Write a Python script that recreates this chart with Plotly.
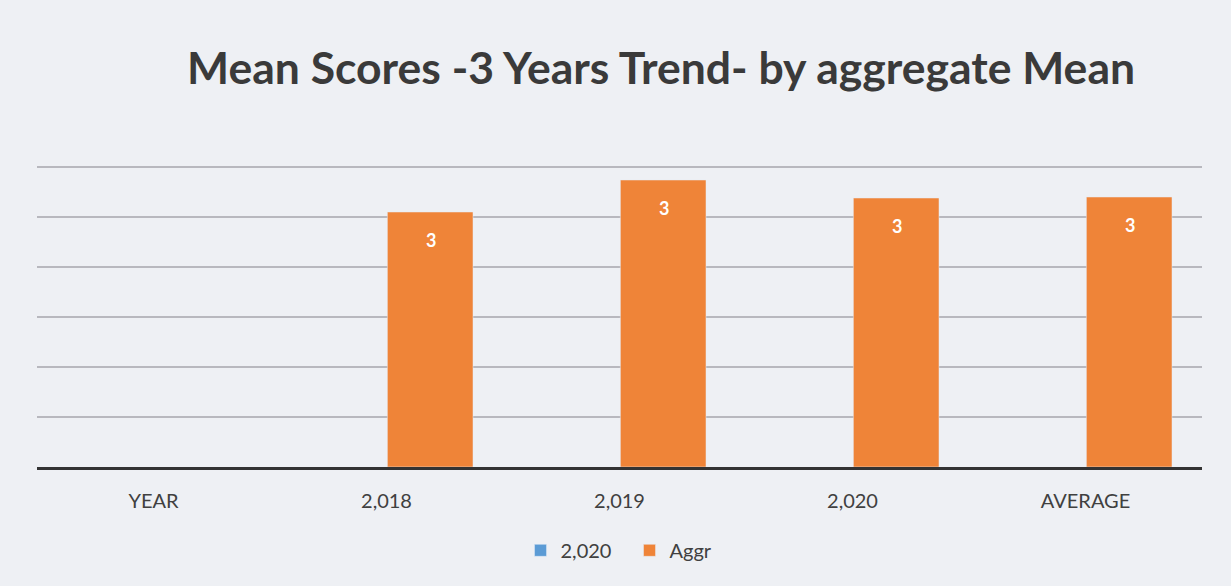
import plotly.graph_objects as go

categories = ["YEAR", "2,018", "2,019", "2,020", "AVERAGE"]
series_2020 = [None, None, None, None, None]
series_aggr = [None, 2.55, 2.87, 2.69, 2.70]
aggr_labels = [None if v is None else f"{v:.0f}" for v in series_aggr]

BLUE = "#5b9bd5"
ORANGE = "#ef8438"
TEXT = "#404040"
FONT = "Lato, Open Sans, sans-serif"

fig = go.Figure()
fig.add_trace(go.Bar(name="2,020", x=categories, y=series_2020, marker_color=BLUE))
fig.add_trace(go.Bar(name="Aggr", x=categories, y=series_aggr, marker_color=ORANGE))

for c, v, t in zip(categories, series_aggr, aggr_labels):
    if v is None:
        continue
    fig.add_annotation(x=c, y=v, xref="x", yref="y", text=f"<b>{t}</b>", showarrow=False,
                       xshift=44, yshift=-28, font=dict(family=FONT, size=18, color="white"))

fig.update_layout(
    width=1231, height=586,
    margin=dict(l=37, r=29, t=164, b=119),
    paper_bgcolor="#eef0f4", plot_bgcolor="#eef0f4",
    barmode="group", bargap=0.25, bargroupgap=0.02,
    title=dict(text="<b>Mean Scores -3 Years Trend- by aggregate Mean</b>",
               x=0.537, xanchor="center", y=0.884, yanchor="middle",
               font=dict(family=FONT, size=44.5, color="#3a3a3a")),
    showlegend=True,
    legend=dict(orientation="h", x=0.5086, xanchor="center", y=-0.275, yanchor="middle",
                font=dict(family=FONT, size=20, color=TEXT),
                bgcolor="rgba(0,0,0,0)", itemwidth=30, traceorder="normal",
                entrywidth=64, entrywidthmode="pixels"),
    font=dict(family=FONT, color=TEXT),
)
fig.update_xaxes(showline=True, linecolor="#333333", linewidth=3, showgrid=False,
                 ticks="outside", ticklen=14, tickcolor="rgba(0,0,0,0)",
                 tickfont=dict(size=20, color=TEXT, family=FONT))
fig.update_yaxes(range=[0, 3.03], tickvals=[0.5, 1, 1.5, 2, 2.5, 3], showticklabels=False, showgrid=True,
                 gridcolor="#b8b8be", gridwidth=1.5, zeroline=False)

fig.write_html("out.html")
